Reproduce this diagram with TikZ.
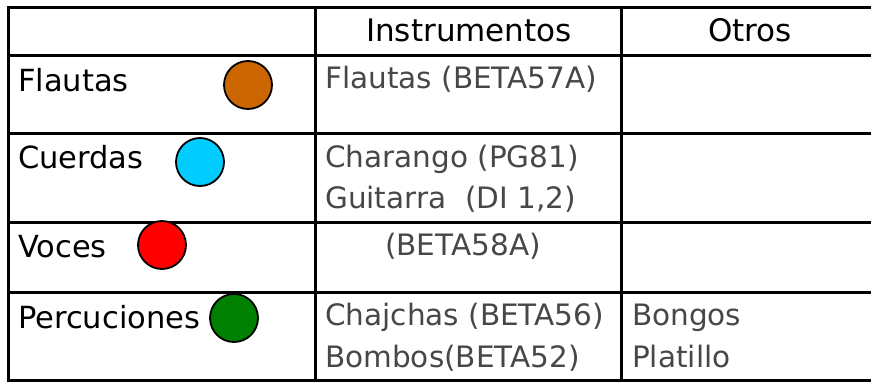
\documentclass[tikz,border=0pt]{standalone}
\usepackage{fontspec}
\setmainfont{DejaVu Sans}
\begin{document}
\begin{tikzpicture}[x=1pt,y=-1pt,
  grid/.style={line width=3pt,line cap=rect},
  lab/.style={anchor=base west,inner sep=0pt,font=\fontsize{30.5}{30.5}\selectfont},
  hdr/.style={anchor=base,inner sep=0pt,font=\fontsize{31}{31}\selectfont},
  cell/.style={anchor=base west,inner sep=0pt,text=black!72,font=\fontsize{29.5}{29.5}\selectfont},
  dot/.style={circle,draw=black,line width=1.8pt,minimum size=48pt,inner sep=0pt}]
\useasboundingbox (0,0) rectangle (871,381);
% table lines
\draw[grid] (8,7) -- (871,7);
\draw[grid] (8,55) -- (871,55);
\draw[grid] (8,133) -- (871,133);
\draw[grid] (8,222) -- (871,222);
\draw[grid] (8,292) -- (871,292);
\draw[grid] (8,380) -- (871,380);
\draw[grid] (8,7) -- (8,380);
\draw[grid] (315,7) -- (315,380);
\draw[grid] (621,7) -- (621,380);
% header
\node[hdr] (h1) at (469,41) {Instrumentos};
\node[hdr] (h2) at (750,41) {Otros};
% left labels
\node[lab] (l1) at (18,91) {Flautas};
\node[lab] (l2) at (18,168) {Cuerdas};
\node[lab] (l3) at (18,257) {Voces};
\node[lab] (l4) at (18,328) {Percuciones};
% dots
\node[dot,fill={rgb,255:red,204;green,102;blue,0}] (d1) at (248,85) {};
\node[dot,fill={rgb,255:red,0;green,204;blue,255}] (d2) at (200,162) {};
\node[dot,fill={rgb,255:red,255;green,0;blue,0}] (d3) at (162,245) {};
\node[dot,fill={rgb,255:red,0;green,128;blue,0}] (d4) at (234,318) {};
% instrument cells
\node[cell] (c1) at (325,88) {Flautas (BETA57A)};
\node[cell] (c2) at (325,167) {Charango (PG81)};
\node[cell] (c3) at (325,208) {Guitarra\ \ (DI 1,2)};
\node[cell] (c4) at (385,255) {(BETA58A)};
\node[cell] (c5) at (325,325) {Chajchas (BETA56)};
\node[cell] (c6) at (325,367) {Bombos(BETA52)};
\node[cell] (o1) at (632,325) {Bongos};
\node[cell] (o2) at (632,367) {Platillo};
\end{tikzpicture}
\end{document}
